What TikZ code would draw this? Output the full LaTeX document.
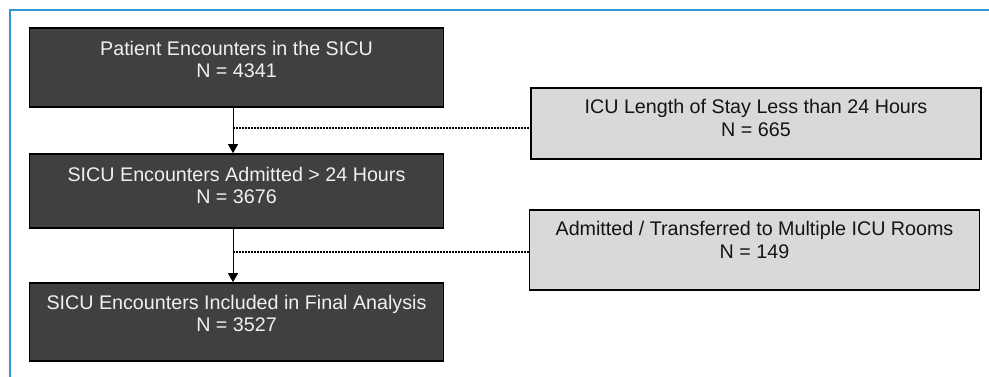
\documentclass[tikz,border=0pt]{standalone}
\usepackage{fontspec}
\setmainfont{Liberation Sans}
\usetikzlibrary{arrows.meta,calc}
\definecolor{frameblue}{RGB}{52,150,212}
\definecolor{darkfill}{RGB}{64,64,64}
\definecolor{lightfill}{RGB}{217,217,217}
\definecolor{lighttext}{RGB}{240,240,240}
\definecolor{darktext}{RGB}{20,20,20}
\tikzset{
  darkbox/.style={draw=black, line width=1.6pt, fill=darkfill, minimum width=414pt, inner sep=0pt},
  lightbox/.style={draw=black, line width=1.6pt, fill=lightfill, minimum width=450pt, inner sep=0pt},
  lbl/.style={anchor=base, align=center, inner sep=0pt, font=\fontsize{19.7}{22}\selectfont},
  flowarrow/.style={draw=black, line width=1pt, -{Triangle[width=10pt,length=9pt]}},
  dotline/.style={draw=black, line width=1.7pt, dash pattern=on 1.5pt off 1.5pt},
}
\begin{document}
\begin{tikzpicture}[x=1pt,y=-1pt]
\useasboundingbox (0,0) rectangle (989,377);
% frame
\draw[frameblue, line width=2.4pt] (10,377) -- (10,10) -- (989,10);
% left boxes
\node[darkbox, minimum height=79pt] (b1) at (236.5,67.5) {};
\node[darkbox, minimum height=74pt] (b2) at (236.5,191) {};
\node[darkbox, minimum height=78pt] (b3) at (236.5,322) {};
% side boxes
\node[lightbox, minimum height=71pt] (s1) at (756,123.5) {};
\node[lightbox, minimum height=80pt] (s2) at (754.5,250) {};
% texts
\node[lbl, text=lighttext] (t1) at ($(b1.north)+(0,28.5)$) {Patient Encounters in the SICU};
\node[lbl, text=lighttext] (t1n) at ($(b1.north)+(0,50.5)$) {N = 4341};
\node[lbl, text=lighttext] (t2) at ($(b2.north)+(0,28)$) {SICU Encounters Admitted > 24 Hours};
\node[lbl, text=lighttext] (t2n) at ($(b2.north)+(0,50)$) {N = 3676};
\node[lbl, text=lighttext] (t3) at ($(b3.north)+(0,27.5)$) {SICU Encounters Included in Final Analysis};
\node[lbl, text=lighttext] (t3n) at ($(b3.north)+(0,49.5)$) {N = 3527};
\node[lbl, text=darktext] (u1) at ($(s1.north)+(0,26)$) {ICU Length of Stay Less than 24 Hours};
\node[lbl, text=darktext] (u1n) at ($(s1.north)+(0,49)$) {N = 665};
\node[lbl, text=darktext] (u2) at ($(s2.north)+(0,26.5)$) {Admitted / Transferred to Multiple ICU Rooms};
\node[lbl, text=darktext] (u2n) at ($(s2.north)+(0,49)$) {N = 149};
% connectors
\coordinate (a1s) at ([xshift=-3.5pt]b1.south);
\coordinate (a1e) at ([xshift=-3.5pt]b2.north);
\coordinate (a2s) at ([xshift=-3.5pt]b2.south);
\coordinate (a2e) at ([xshift=-3.5pt]b3.north);
\draw[flowarrow] (a1s) -- (a1e);
\draw[flowarrow] (a2s) -- (a2e);
\coordinate (d1) at ($(a1s)+(0,20.5)$);
\coordinate (d2) at ($(a2s)+(0,23)$);
\draw[dotline] (d1) -- (d1 -| s1.west);
\draw[dotline] (d2) -- (d2 -| s2.west);
\end{tikzpicture}
\end{document}
